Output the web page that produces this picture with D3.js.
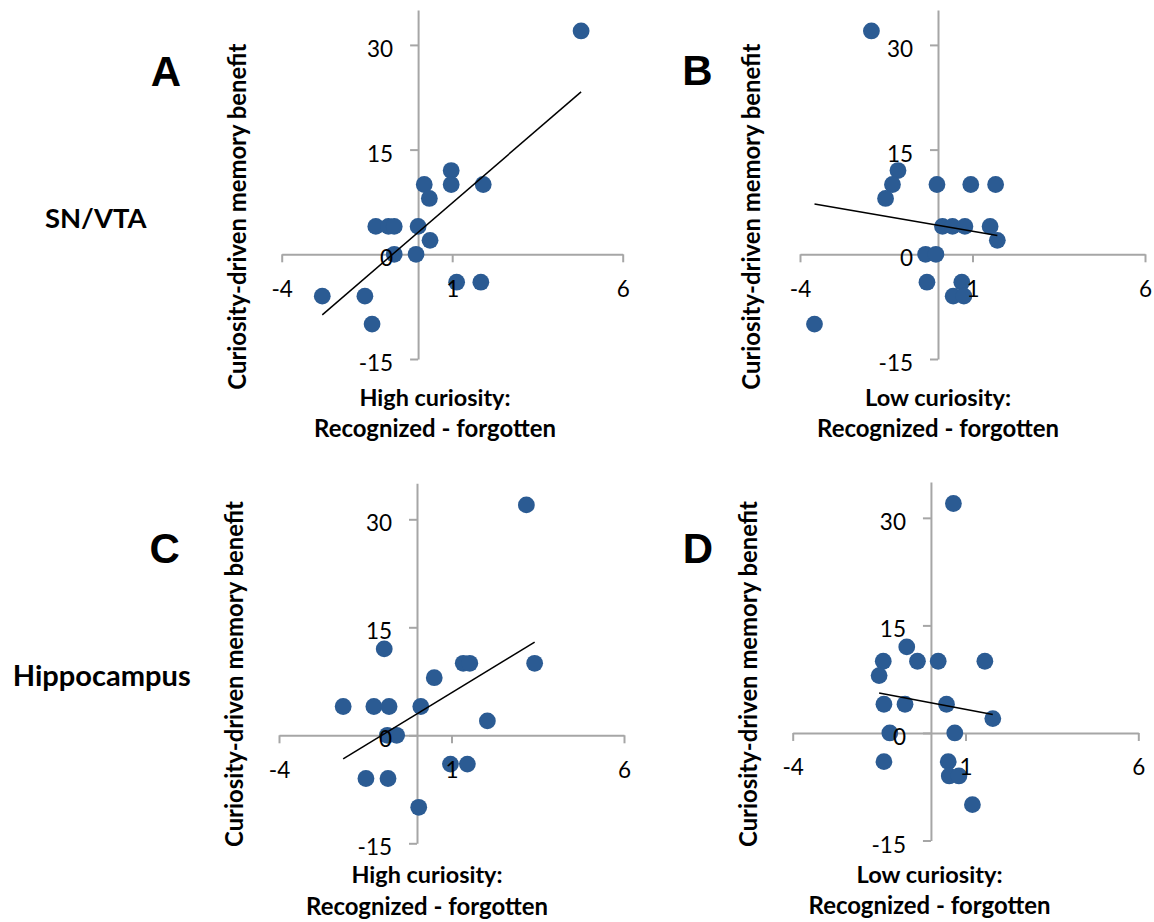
<!DOCTYPE html>
<html>
<head>
<meta charset="utf-8">
<script src="https://cdn.jsdelivr.net/npm/d3@7"></script>
<style>
  html, body { margin: 0; padding: 0; background: #fff; }
  svg { display: block; }
</style>
</head>
<body>
<svg id="chart" width="1154" height="922"></svg>
<script>
// ---------------- data ----------------
const xTicks = [-4, 1, 6];
const yTicks = [-15, 0, 15, 30];
const xDomain = [-4, 6];
const yDomain = [-15, 35];

const panelLetters = ["A", "B", "C", "D"];
const rowLabels = ["SN/VTA", "Hippocampus"];
const yTitle = "Curiosity-driven memory benefit";
const xTitlesLine1 = ["High curiosity:", "Low curiosity:", "High curiosity:", "Low curiosity:"];
const xTitleLine2 = "Recognized - forgotten";

const A_x = [4.78, 0.97, 0.18, 0.97, 1.91, 0.33, -1.24, -0.87, -0.70, 0.00, 0.35, -0.70, -0.06, 1.13, 1.84, -2.81, -1.56, -1.35];
const A_y = [32, 12, 10, 10, 10, 8, 4, 4, 4, 4, 2, 0, 0, -4, -4, -6, -6, -10];

const B_x = [-1.93, -1.16, -1.32, -1.52, -0.03, 0.95, 1.67, 0.13, 0.42, 0.78, 1.51, 1.72, -0.36, -0.06, -0.32, 0.69, 0.44, 0.75, -3.58];
const B_y = [32, 12, 10, 8, 10, 10, 10, 4, 4, 4, 4, 2, 0, 0, -4, -4, -6, -6, -10];

const C_x = [3.17, -0.95, 1.34, 1.53, 3.41, 0.50, -2.14, -1.25, -0.81, 0.11, 2.04, -0.86, -0.59, 0.97, 1.46, -1.48, -0.84, 0.05];
const C_y = [32, 12, 10, 10, 10, 8, 4, 4, 4, 4, 2, 0, 0, -4, -4, -6, -6, -10];

const D_x = [0.65, -0.70, -1.38, -0.39, 0.21, 1.56, -1.50, -1.36, -0.75, 0.45, 1.79, -1.19, 0.69, -1.36, 0.50, 0.53, 0.81, 1.20];
const D_y = [32, 12, 10, 10, 10, 10, 8, 4, 4, 4, 2, 0, 0, -4, -4, -6, -6, -10];

// ---------------- layout ----------------
const DOT = "#2b5b93";
const AXIS = "#a6a6a6";
const FONT = "Lato, 'Open Sans', sans-serif";

const layout = [
  { xs: A_x, ys: A_y, xr: [281.7, 622.7], yr: [359, 10],
    yt: [236.7, 216.7], xt: [435, 406, 436.7], letter: [166, 86] },
  { xs: B_x, ys: B_y, xr: [800, 1145], yr: [359, 10],
    yt: [750, 216.7], xt: [938, 406, 436.7], letter: [697.5, 85] },
  { xs: C_x, ys: C_y, xr: [279, 624], yr: [843.3, 483.3],
    yt: [233.5, 674], xt: [427, 883.3, 915], letter: [164.7, 563] },
  { xs: D_x, ys: D_y, xr: [792.7, 1138.3], yr: [840.5, 482],
    yt: [747, 674], xt: [929.5, 883.3, 914], letter: [698, 563] }
];

const svg = d3.select("#chart");
const fmt = d => String(d);

function fitWidth(sel, target) {
  const node = sel.node();
  const fs = parseFloat(sel.attr("font-size"));
  const w = node.getComputedTextLength();
  if (w > 0) sel.attr("font-size", (fs * target / w).toFixed(2));
  return sel;
}

function regression(xs, ys) {
  const n = xs.length;
  const mx = d3.mean(xs), my = d3.mean(ys);
  let sxy = 0, sxx = 0;
  for (let i = 0; i < n; i++) {
    sxy += (xs[i] - mx) * (ys[i] - my);
    sxx += (xs[i] - mx) * (xs[i] - mx);
  }
  const b = sxy / sxx;
  return { b, a: my - b * mx };
}

layout.forEach((p, i) => {
  const x = d3.scaleLinear().domain(xDomain).range(p.xr);
  const y = d3.scaleLinear().domain(yDomain).range(p.yr);
  const g = svg.append("g");

  // axis lines (no labels)
  const xAxis = d3.axisBottom(x).tickValues(xTicks).tickSize(8).tickSizeOuter(0).tickFormat("");
  const yAxis = d3.axisLeft(y).tickValues(yTicks).tickSize(8).tickSizeOuter(0).tickFormat("");
  const gx = g.append("g").attr("transform", `translate(0,${y(0)})`).call(xAxis);
  const gy = g.append("g").attr("transform", `translate(${x(0)},0)`).call(yAxis);
  [gx, gy].forEach(a => {
    a.selectAll("path.domain").attr("stroke", AXIS).attr("stroke-width", 2);
    a.selectAll(".tick line").attr("stroke", AXIS).attr("stroke-width", 2);
  });

  // dots
  const pts = p.xs.map((v, k) => ({ x: v, y: p.ys[k] }));
  g.append("g").selectAll("circle").data(pts).join("circle")
    .attr("cx", d => x(d.x)).attr("cy", d => y(d.y)).attr("r", 8.4)
    .attr("fill", DOT);

  // tick labels on top
  const xl = d3.axisBottom(x).tickValues(xTicks).tickSize(0).tickSizeOuter(0).tickFormat(fmt);
  const yl = d3.axisLeft(y).tickValues(yTicks).tickSize(0).tickSizeOuter(0).tickPadding(25).tickFormat(fmt);
  const gxl = g.append("g").attr("transform", `translate(0,${y(0)})`).call(xl);
  const gyl = g.append("g").attr("transform", `translate(${x(0)},0)`).call(yl);
  [gxl, gyl].forEach(a => {
    a.select("path.domain").remove();
    a.selectAll("text").attr("font-family", FONT).attr("font-size", 22.5).attr("fill", "#000");
  });
  gxl.selectAll("text").attr("y", 42.5).attr("dy", null);
  gyl.selectAll("text").attr("dy", 11.5);

  // trend line
  const r = regression(p.xs, p.ys);
  const ex = d3.extent(p.xs);
  g.append("line")
    .attr("x1", x(ex[0])).attr("y1", y(r.a + r.b * ex[0]))
    .attr("x2", x(ex[1])).attr("y2", y(r.a + r.b * ex[1]))
    .attr("stroke", "#000").attr("stroke-width", 1.5);

  // y title
  const yt = g.append("text")
    .attr("transform", `translate(${p.yt[0]},${p.yt[1]}) rotate(-90)`)
    .attr("text-anchor", "middle").attr("dominant-baseline", "central")
    .attr("font-family", FONT).attr("font-weight", "bold").attr("font-size", 22)
    .text(yTitle);
  fitWidth(yt, 346);

  // x title
  const t1 = g.append("text").attr("x", p.xt[0]).attr("y", p.xt[1])
    .attr("text-anchor", "middle").attr("font-family", FONT).attr("font-weight", "bold")
    .attr("font-size", 22).text(xTitlesLine1[i]);
  fitWidth(t1, i % 2 === 0 ? 151 : 146);
  const t2 = g.append("text").attr("x", p.xt[0]).attr("y", p.xt[2])
    .attr("text-anchor", "middle").attr("font-family", FONT).attr("font-weight", "bold")
    .attr("font-size", 22).text(xTitleLine2);
  fitWidth(t2, 242);

  // panel letter
  g.append("text").attr("x", p.letter[0]).attr("y", p.letter[1])
    .attr("text-anchor", "middle")
    .attr("font-family", "'Liberation Sans', Arial, sans-serif").attr("font-weight", "bold")
    .attr("font-size", 42).text(panelLetters[i]);
});

// row labels
const r1 = svg.append("text").attr("x", 95.8).attr("y", 227.7).attr("text-anchor", "middle")
  .attr("font-family", FONT).attr("font-weight", "bold").attr("font-size", 26).text(rowLabels[0]);
fitWidth(r1, 101.7);
const r2 = svg.append("text").attr("x", 101.7).attr("y", 685.7).attr("text-anchor", "middle")
  .attr("font-family", FONT).attr("font-weight", "bold").attr("font-size", 26).text(rowLabels[1]);
fitWidth(r2, 178);
</script>
</body>
</html>
